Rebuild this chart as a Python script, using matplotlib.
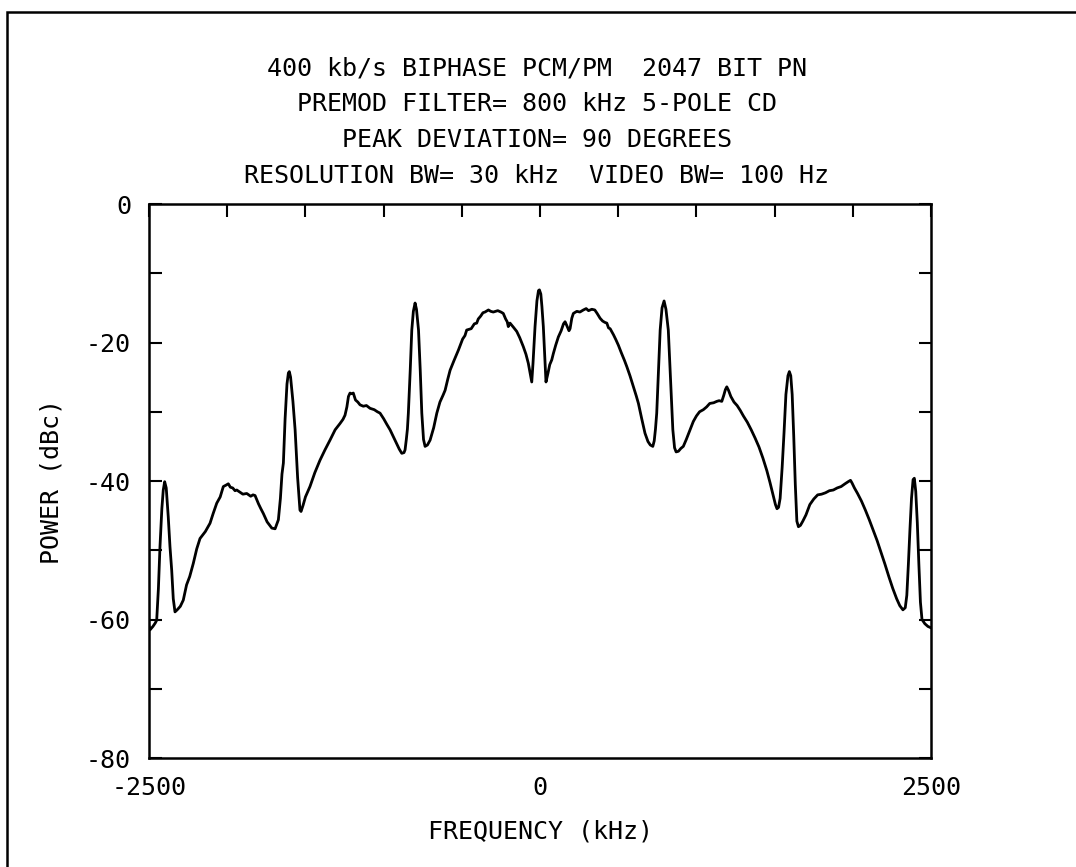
import matplotlib
matplotlib.use("Agg")
import matplotlib.pyplot as plt
from matplotlib.patches import Rectangle

# spectrum trace (kHz, dBc)
freq_khz = [
    -2500, -2494, -2475, -2460, -2451, -2440, -2430, -2418, -2409, -2400,
    -2390, -2377, -2366, -2355, -2345, -2334, -2320, -2300, -2281, -2260,
    -2240, -2217, -2195, -2174, -2140, -2110, -2090, -2067, -2045, -2025,
    -2008, -1993, -1980, -1965, -1950, -1939, -1920, -1900, -1875, -1850,
    -1835, -1822, -1800, -1785, -1769, -1745, -1715, -1694, -1673, -1660,
    -1650, -1641, -1630, -1618, -1609, -1603, -1595, -1580, -1566, -1550,
    -1535, -1528, -1515, -1500, -1471, -1440, -1407, -1375, -1343, -1310,
    -1279, -1260, -1247, -1235, -1225, -1215, -1205, -1194, -1180, -1165,
    -1151, -1130, -1110, -1087, -1060, -1040, -1023, -1000, -980, -959,
    -940, -916, -900, -884, -870, -863, -855, -848, -842, -830,
    -820, -810, -799, -790, -777, -766, -756, -745, -735, -720,
    -703, -680, -660, -640, -620, -607, -590, -575, -550, -522,
    -495, -480, -469, -440, -420, -405, -395, -380, -365, -352,
    -330, -315, -299, -270, -250, -235, -220, -210, -203, -192,
    -170, -149, -130, -107, -90, -75, -63, -53, -45, -32,
    -20, -10, -4, 5, 12, 21, 30, 38, 50, 62,
    75, 85, 100, 117, 135, 150, 160, 170, 185, 192,
    203, 213, 235, 255, 277, 295, 310, 331, 350, 365,
    384, 400, 415, 427, 438, 448, 470, 485, 501, 520,
    540, 555, 575, 597, 615, 629, 650, 671, 690, 705,
    721, 730, 738, 746, 757, 768, 780, 793, 805, 820,
    835, 849, 860, 870, 885, 900, 916, 935, 959, 980,
    1000, 1020, 1044, 1065, 1085, 1110, 1130, 1145, 1162, 1175,
    1185, 1194, 1205, 1220, 1240, 1260, 1280, 1300, 1325, 1350,
    1375, 1400, 1425, 1450, 1470, 1490, 1505, 1515, 1525, 1535,
    1548, 1560, 1572, 1585, 1594, 1603, 1612, 1622, 1632, 1642,
    1652, 1665, 1680, 1700, 1725, 1750, 1775, 1800, 1825, 1850,
    1875, 1900, 1925, 1950, 1970, 1985, 1995, 2010, 2030, 2055,
    2080, 2105, 2130, 2155, 2180, 2205, 2230, 2255, 2280, 2300,
    2320, 2335, 2345, 2355, 2365, 2375, 2385, 2393, 2402, 2412,
    2422, 2432, 2442, 2460, 2480, 2500,
]
power_dbc = [
    -61.0, -61.5, -61.0, -60.5, -60.1, -55.5, -49.5, -44.0, -41.3, -40.1,
    -41.0, -45.2, -49.5, -52.9, -57.0, -58.9, -58.6, -58.1, -57.2, -55.0,
    -53.8, -51.9, -49.8, -48.3, -47.3, -46.1, -44.7, -43.2, -42.3, -40.8,
    -40.6, -40.4, -40.9, -41.0, -41.4, -41.3, -41.6, -41.9, -41.8, -42.2,
    -42.0, -42.1, -43.3, -44.0, -44.7, -45.9, -46.8, -46.9, -45.6, -42.5,
    -39.0, -37.4, -31.0, -26.0, -24.4, -24.2, -25.0, -28.5, -32.6, -39.5,
    -44.2, -44.4, -43.5, -42.3, -40.8, -38.8, -37.0, -35.5, -34.1, -32.6,
    -31.7, -31.1, -30.5, -29.3, -27.8, -27.3, -27.4, -27.3, -28.3, -28.6,
    -29.0, -29.2, -29.1, -29.5, -29.7, -30.0, -30.2, -31.0, -31.8, -32.6,
    -33.5, -34.6, -35.4, -36.0, -35.9, -35.5, -34.0, -32.5, -30.2, -24.0,
    -18.2, -15.5, -14.3, -15.2, -18.2, -24.0, -30.2, -34.0, -35.0, -34.8,
    -34.1, -32.3, -30.2, -28.6, -27.6, -26.9, -25.3, -24.0, -22.6, -21.1,
    -19.5, -19.0, -18.2, -18.0, -17.3, -17.2, -16.6, -16.2, -15.7, -15.6,
    -15.3, -15.5, -15.6, -15.4, -15.6, -15.8, -16.6, -17.0, -17.7, -17.2,
    -17.8, -18.4, -19.3, -20.6, -21.7, -23.0, -24.5, -25.7, -23.0, -17.7,
    -14.0, -12.5, -12.4, -13.0, -14.8, -17.7, -22.0, -25.7, -24.5, -23.2,
    -22.5, -21.6, -20.4, -19.2, -18.3, -17.3, -17.0, -17.5, -18.3, -18.0,
    -16.5, -15.8, -15.5, -15.6, -15.3, -15.1, -15.4, -15.2, -15.3, -15.8,
    -16.5, -16.9, -17.1, -17.2, -17.9, -18.0, -18.9, -19.6, -20.4, -21.5,
    -22.6, -23.5, -24.8, -26.4, -27.7, -28.8, -31.0, -33.1, -34.3, -34.8,
    -35.0, -34.2, -32.5, -30.2, -24.0, -18.2, -15.0, -14.0, -15.2, -18.2,
    -25.5, -32.6, -35.2, -35.8, -35.7, -35.3, -35.0, -34.0, -32.6, -31.4,
    -30.6, -30.0, -29.7, -29.3, -28.8, -28.7, -28.5, -28.4, -28.5, -27.6,
    -26.8, -26.4, -26.9, -27.8, -28.6, -29.1, -29.8, -30.6, -31.5, -32.6,
    -33.8, -35.1, -36.7, -38.5, -40.2, -42.0, -43.4, -44.0, -43.8, -42.5,
    -38.0, -33.0, -27.5, -24.8, -24.2, -24.8, -27.5, -33.5, -40.5, -45.8,
    -46.6, -46.4, -45.8, -44.9, -43.4, -42.6, -42.0, -41.9, -41.7, -41.4,
    -41.3, -41.0, -40.8, -40.4, -40.1, -39.9, -40.3, -41.0, -41.8, -42.9,
    -44.2, -45.6, -47.1, -48.6, -50.3, -52.0, -53.8, -55.5, -57.0, -58.0,
    -58.6, -58.3, -56.5, -52.0, -47.0, -42.5, -39.8, -39.6, -41.5, -46.0,
    -52.0, -57.5, -60.0, -60.6, -61.0, -61.2,
]

title_lines = [
    "400 kb/s BIPHASE PCM/PM  2047 BIT PN",
    "PREMOD FILTER= 800 kHz 5-POLE CD",
    "PEAK DEVIATION= 90 DEGREES",
    "RESOLUTION BW= 30 kHz  VIDEO BW= 100 Hz",
]
x_labels = ["-2500", "0", "2500"]
x_label_pos = [-2500, 0, 2500]
x_top_ticks = [-2000, -1500, -1000, -500, 0, 500, 1000, 1500, 2000]
y_labels = ["-80", "-60", "-40", "-20", "0"]
y_label_pos = [-80, -60, -40, -20, 0]
y_minor = [-70, -50, -30, -10]

plt.rcParams["font.family"] = ["DejaVu Sans Mono", "DejaVu Sans"]
plt.rcParams["font.size"] = 18

fig = plt.figure(figsize=(10.76, 8.67), dpi=100)
ax = fig.add_axes([0.1385, 0.1257, 0.7268, 0.639])

ax.plot(freq_khz, power_dbc, color="black", lw=2.0, solid_joinstyle="round")

ax.set_xlim(-2500, 2500)
ax.set_ylim(-80, 0)

# labels only at the ends and centre, small ticks along the top
ax.set_xticks(x_label_pos)
ax.set_xticklabels(x_labels)
ax.set_xticks(x_top_ticks, minor=True)
ax.set_yticks(y_label_pos)
ax.set_yticklabels(y_labels)
ax.set_yticks(y_minor, minor=True)

ax.tick_params(axis="x", which="both", direction="in", bottom=False, top=True,
               length=9, width=1.5, pad=13)
ax.tick_params(axis="y", which="both", direction="in", left=True, right=True,
               length=9, width=1.5, pad=13)

for s in ax.spines.values():
    s.set_linewidth(1.8)

ax.set_xlabel("FREQUENCY (kHz)", labelpad=14)
ax.set_ylabel("POWER (dBc)", labelpad=16)

# title block, one line at a time
for i, line in enumerate(title_lines):
    fig.text(537 / 1076, 1 - (75 + 36 * i) / 867, line, ha="center", va="baseline")

# scanned page border (left and top edges show)
top = 1 - 12 / 867
fig.patches.append(Rectangle((7 / 1076, -0.2), 1.2, top + 0.2,
                             transform=fig.transFigure, fill=False, lw=1.8,
                             edgecolor="black"))

fig.savefig("out.png", dpi=100)
